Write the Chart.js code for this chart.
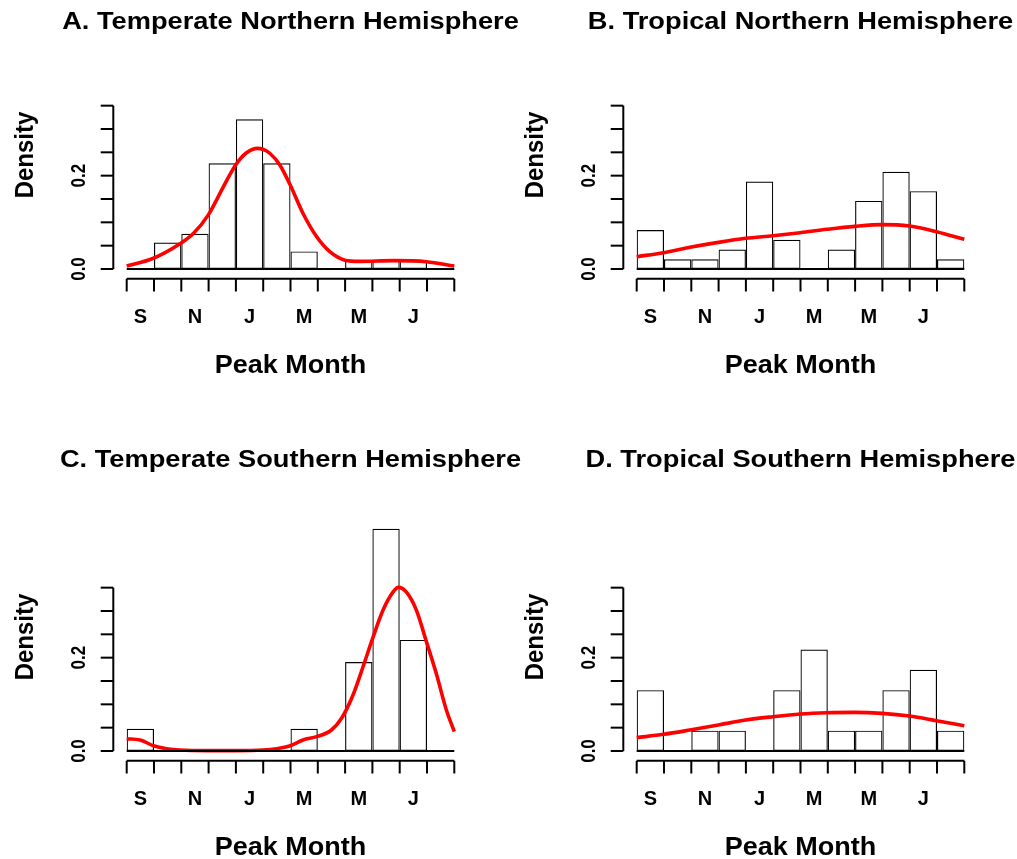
<!DOCTYPE html>
<html>
<head>
<meta charset="utf-8">
<script src="https://cdn.jsdelivr.net/npm/chart.js@4.4.1/dist/chart.umd.min.js"></script>
<style>
  html, body { margin: 0; padding: 0; background: #fff; }
  #wrap { position: relative; width: 1017px; height: 859px; background: #fff; }
  canvas { position: absolute; left: 0; top: 0; }
</style>
</head>
<body>
<div id="wrap">
  <canvas id="cA" width="1017" height="859"></canvas>
  <canvas id="cB" width="1017" height="859"></canvas>
  <canvas id="cC" width="1017" height="859"></canvas>
  <canvas id="cD" width="1017" height="859"></canvas>
</div>
<script>
// ---- categories / ticks ----
const months = ["S", "O", "N", "D", "J", "F", "M", "A", "M", "J", "J", "A"];
const binMid = [0.5, 1.5, 2.5, 3.5, 4.5, 5.5, 6.5, 7.5, 8.5, 9.5, 10.5, 11.5];
const binEdges = [0, 1, 2, 3, 4, 5, 6, 7, 8, 9, 10, 11, 12];
const yTicks = [0, 0.05, 0.10, 0.15, 0.20, 0.25, 0.30, 0.35];
const yTickLabels = ["0.0", "", "", "", "0.2", "", "", ""];

// ---- histogram densities (Sep..Aug) ----
const densA = [0, 0.0566, 0.0755, 0.2264, 0.3208, 0.2264, 0.0377, 0, 0.0189, 0.0189, 0.0189, 0];
const densB = [0.0833, 0.0208, 0.0208, 0.0417, 0.1875, 0.0625, 0, 0.0417, 0.1458, 0.2083, 0.1667, 0.0208];
const densC = [0.0476, 0, 0, 0, 0, 0, 0.0476, 0, 0.1905, 0.4762, 0.2381, 0];
const densD = [0.1304, 0, 0.0435, 0.0435, 0, 0.1304, 0.2174, 0.0435, 0.0435, 0.1304, 0.1739, 0.0435];

// ---- kernel density curves (position in bins, density) ----
const curveAx = [0, 0.98, 1.95, 2.44, 2.99, 3.54, 3.99, 4.39, 4.79, 4.99, 5.24, 5.61, 5.99, 6.46, 6.96, 7.44, 7.99, 8.54, 9.76, 10.98, 12];
const curveAy = [0.0064, 0.023, 0.054, 0.076, 0.116, 0.176, 0.223, 0.249, 0.2585, 0.2565, 0.248, 0.223, 0.180, 0.119, 0.069, 0.037, 0.019, 0.0164, 0.018, 0.0157, 0.0064];
const curveBx = [0, 0.98, 1.95, 2.99, 3.99, 4.99, 5.99, 6.96, 7.99, 8.99, 9.99, 10.98, 12];
const curveBy = [0.0264, 0.035, 0.0464, 0.057, 0.0657, 0.0714, 0.0778, 0.085, 0.0914, 0.095, 0.092, 0.080, 0.0636];
const curveCx = [0, 0.49, 0.98, 1.46, 1.95, 2.99, 3.99, 4.99, 5.49, 5.99, 6.46, 6.96, 7.5, 7.87, 8.29, 8.66, 8.99, 9.39, 9.76, 9.95, 10.24, 10.61, 10.98, 11.34, 11.71, 12];
const curveCy = [0.0264, 0.0236, 0.0114, 0.005, 0.002, 0.0007, 0.0007, 0.002, 0.005, 0.0114, 0.0236, 0.0307, 0.045, 0.07, 0.12, 0.181, 0.238, 0.302, 0.341, 0.3506, 0.341, 0.302, 0.234, 0.166, 0.0878, 0.0414];
const curveDx = [0, 0.98, 1.95, 2.99, 3.99, 4.99, 5.99, 6.96, 7.99, 8.99, 9.99, 10.98, 12];
const curveDy = [0.0286, 0.0357, 0.045, 0.0557, 0.0664, 0.0735, 0.0793, 0.0821, 0.0828, 0.0807, 0.075, 0.065, 0.0543];

const titles = ["A. Temperate Northern Hemisphere", "B. Tropical Northern Hemisphere",
                "C. Temperate Southern Hemisphere", "D. Tropical Southern Hemisphere"];

// ---- layout (pixels) ----
const W = 1017, H = 859;
const panels = [
  { id: "cA", title: titles[0], dens: densA, cx: curveAx, cy: curveAy, left: 126.7, right: 454.3, y0: 269, titleY: 28.5 },
  { id: "cB", title: titles[1], dens: densB, cx: curveBx, cy: curveBy, left: 636.7, right: 964.3, y0: 269, titleY: 28.5 },
  { id: "cC", title: titles[2], dens: densC, cx: curveCx, cy: curveCy, left: 126.7, right: 454.3, y0: 751, titleY: 467 },
  { id: "cD", title: titles[3], dens: densD, cx: curveDx, cy: curveDy, left: 636.7, right: 964.3, y0: 751, titleY: 467 }
];
const YMAX = 0.5;
const PX_PER_UNIT = 466.7;
const FONT = '"Liberation Sans", Arial, Helvetica, sans-serif';

function drawText(ctx, s, x, y, size, stretch, rotated) {
  ctx.save();
  ctx.translate(x, y);
  if (rotated) { ctx.rotate(-Math.PI / 2); ctx.scale(1, stretch); }
  else { ctx.scale(stretch, 1); }
  ctx.font = "bold " + size + "px " + FONT;
  ctx.fillStyle = "#000";
  ctx.textAlign = "center";
  ctx.textBaseline = "alphabetic";
  ctx.fillText(s, 0, 0);
  ctx.restore();
}

const rAxesPlugin = {
  id: "rAxes",
  afterDraw(chart, args, opts) {
    const ctx = chart.ctx;
    const xs = chart.scales.x, ys = chart.scales.y;
    const p = opts.panel;
    const x0 = xs.getPixelForValue(0), x12 = xs.getPixelForValue(12);
    const yZero = ys.getPixelForValue(0);
    ctx.save();
    ctx.strokeStyle = "#000";
    ctx.lineCap = "butt";
    // zero baseline of histogram
    ctx.lineWidth = 1.8;
    ctx.beginPath(); ctx.moveTo(x0, yZero); ctx.lineTo(x12, yZero); ctx.stroke();
    // y axis
    const ax = x0 - 13.4;
    ctx.lineWidth = 2;
    ctx.beginPath();
    ctx.moveTo(ax, ys.getPixelForValue(yTicks[0]));
    ctx.lineTo(ax, ys.getPixelForValue(yTicks[yTicks.length - 1]));
    ctx.stroke();
    yTicks.forEach((v, i) => {
      const py = ys.getPixelForValue(v);
      ctx.beginPath(); ctx.moveTo(ax, py); ctx.lineTo(ax - 12.6, py); ctx.stroke();
      if (yTickLabels[i]) drawText(ctx, yTickLabels[i], ax - 28.3, py, 17, 1.2, true);
    });
    // x axis
    const axY = yZero + 9.8;
    ctx.beginPath(); ctx.moveTo(x0, axY); ctx.lineTo(x12, axY); ctx.stroke();
    binEdges.forEach(e => {
      const px = xs.getPixelForValue(e);
      ctx.beginPath(); ctx.moveTo(px, axY); ctx.lineTo(px, axY + 12.7); ctx.stroke();
    });
    months.forEach((m, i) => {
      if (i % 2 === 0) drawText(ctx, m, xs.getPixelForValue(binMid[i]), yZero + 54.3, 20, 1.0, false);
    });
    ctx.restore();
    const cxm = (x0 + x12) / 2;
    // title
    drawText(ctx, p.title, cxm, p.titleY, 24, 1.135, false);
    // axis titles
    drawText(ctx, "Peak Month", cxm, yZero + 103.7, 25, 1.08, false);
    drawText(ctx, "Density", ax - 80, yZero - 114, 24, 1.07, true);
  }
};

panels.forEach(p => {
  const barData = binMid.map((m, i) => ({ x: m, y: p.dens[i] }));
  const lineData = p.cx.map((x, i) => ({ x: x, y: p.cy[i] }));
  new Chart(document.getElementById(p.id), {
    type: "bar",
    data: {
      datasets: [
        {
          type: "line",
          data: lineData,
          borderColor: "#ff0000",
          borderWidth: 3.6,
          pointRadius: 0,
          cubicInterpolationMode: "monotone",
          fill: false,
          order: 0,
          clip: false
        },
        {
          type: "bar",
          data: barData,
          backgroundColor: "rgba(255,255,255,0)",
          borderColor: "#000",
          borderWidth: 1.15,
          borderSkipped: false,
          barPercentage: 1.0,
          categoryPercentage: 1.0,
          inflateAmount: 0,
          order: 1,
          clip: false
        }
      ]
    },
    options: {
      responsive: false,
      animation: false,
      events: [],
      layout: { padding: { left: p.left, right: W - p.right, top: p.y0 - YMAX * PX_PER_UNIT, bottom: H - p.y0 } },
      scales: {
        x: { type: "linear", min: 0, max: 12, offset: false, display: false },
        y: { type: "linear", min: 0, max: YMAX, display: false }
      },
      plugins: {
        legend: { display: false },
        tooltip: { enabled: false },
        title: { display: false },
        rAxes: { panel: p }
      }
    },
    plugins: [rAxesPlugin]
  });
});
</script>
</body>
</html>
